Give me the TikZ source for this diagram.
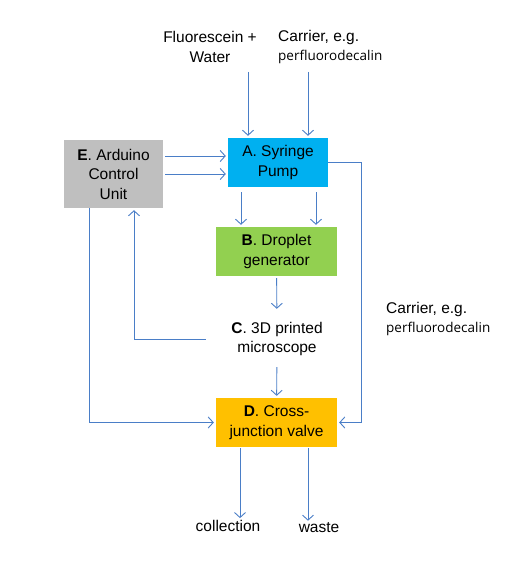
\documentclass[tikz,border=0pt]{standalone}
\usepackage{fontspec}
\setmainfont{Liberation Sans}
\newfontfamily\thinfam{Open Sans}
\usetikzlibrary{arrows.meta}
\definecolor{linkblue}{HTML}{4A7EC7}
\definecolor{unitgray}{HTML}{BFBFBF}
\definecolor{unitcyan}{HTML}{00B0F0}
\definecolor{unitgreen}{HTML}{92D050}
\definecolor{unitorange}{HTML}{FFC000}
\tikzstyle{every node}=[font=\fontsize{15.5bp}{19.5bp}\selectfont, align=center, inner sep=0pt]
\tikzstyle{unit}=[minimum width=121bp, minimum height=49bp]
\tikzstyle{link}=[draw=linkblue, line width=0.9bp, shorten >=2bp, -{Straight Barb[length=5bp,width=11bp]}]
\newcommand{\carrier}{{\thinfam\fontsize{13.5bp}{19.5bp}\selectfont perfluorodecalin}}

\begin{document}
\begin{tikzpicture}[x=1bp, y=-1bp]
\useasboundingbox (0,0) rectangle (527,587);
% Units
    \node[unit, fill=unitgray, minimum width=99bp, minimum height=68bp] (arduino) at (113.5,174) {\textbf{E}. Arduino\\Control\\Unit};
    \node[unit, fill=unitcyan, minimum width=100bp] (pump) at (278,162.5) {A. Syringe\\Pump};
    \node[unit, fill=unitgreen] (droplet) at (276.5,251.5) {\textbf{B}. Droplet\\generator};
    \node[minimum width=142bp, minimum height=56bp] (scope) at (277,339) {\textbf{C}. 3D printed\\microscope};
    \node[unit, fill=unitorange] (valve) at (276.5,422.5) {\textbf{D}. Cross-\\junction valve};
% Labels
    \node (fluor) at (210,47) {Fluorescein +\\Water};
    \node[anchor=west, align=left] (carrierin) at (278,47) {Carrier, e.g.\\\carrier};
    \node[anchor=west, align=left] (carrierout) at (386,319) {Carrier, e.g.\\\carrier};
    \node (collect) at (228,526) {collection};
    \node (waste) at (319,528) {waste};
    \coordinate (fluorin) at (248,72);
    \coordinate (carrin) at (308,72);
% Flow
    \draw[link] (fluorin) -- (fluorin |- pump.north);
    \draw[link] (carrin) -- (carrin |- pump.north);
    \draw[link, shorten <=2bp] ([yshift=18bp]arduino.east) -- ([yshift=18bp]arduino.east -| pump.west);
    \draw[link, shorten <=2bp] (arduino.east) -- (arduino.east -| pump.west);
    \draw[link, shorten <=5bp] ([xshift=-37bp]pump.south) -- ([xshift=-37bp]pump.south |- droplet.north);
    \draw[link, shorten <=5bp] ([xshift=38bp]pump.south) -- ([xshift=38bp]pump.south |- droplet.north);
    \draw[link] (pump.east) -- ++(33,0) |- (valve.east);
    \draw[link, shorten <=2bp] (droplet) -- (scope);
    \draw[link] (scope) -- (valve);
    \draw[link] (scope.west) -| ([xshift=20.5bp]arduino.south);
    \draw[link] ([xshift=-24.5bp]arduino.south) |- (valve.west);
    \draw[link, shorten <=1bp] ([xshift=-36.5bp]valve.south) -- ([xshift=-36.5bp]valve.south |- collect.north);
    \draw[link, shorten <=1bp] ([xshift=31.5bp]valve.south) -- ([xshift=31.5bp]valve.south |- waste.north);
\end{tikzpicture}
\end{document}
